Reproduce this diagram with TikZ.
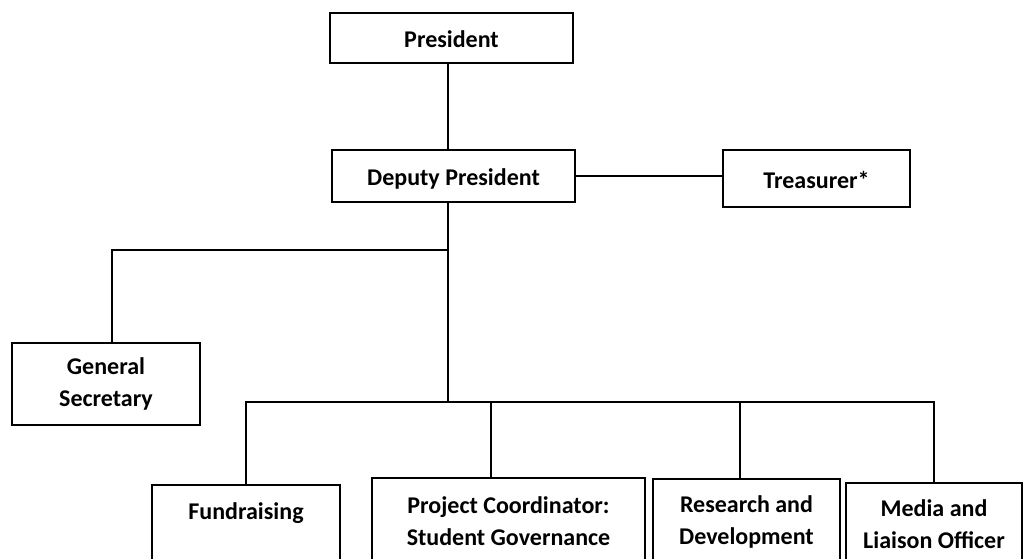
\documentclass[tikz,border=0pt]{standalone}
\usepackage{fontspec}
\setmainfont{Carlito}
\usepackage{tikz}
\usetikzlibrary{positioning,calc}

\begin{document}
\begin{tikzpicture}[
  x=0.5pt, y=-0.5pt,
  box/.style={rectangle, draw, line width=1pt, inner sep=0pt, align=center,
              font=\fontsize{12}{16}\selectfont\bfseries},
  onebox/.style={box, text height=9.5pt, text depth=0pt},
  link/.style={line width=1pt},
]
\useasboundingbox (0,0) rectangle (1027,558);
\clip (0,0) rectangle (1027,558);

% Top of the chart
\node[onebox, minimum width=121.5pt, minimum height=25pt] (president) at (451.5,38) {President};
\node[onebox, minimum width=121.5pt, minimum height=26pt] (deputy) at (453.5,176) {Deputy President};
\node[onebox, minimum width=93.5pt, minimum height=28.5pt] (treasurer) at (816.5,178.5) {Treasurer*};

% Secretary branch
\node[box, minimum width=94pt, minimum height=41pt] (gensec) at (106,384) {General\\Secretary};

% Bottom row (boxes run past the lower edge)
\node[box, minimum width=94pt, anchor=north, text height=17pt, text depth=30pt] (fundraising) at (246,484) {Fundraising};
\node[box, minimum width=136.5pt, minimum height=43pt] (projcoord) at (508.5,521) {Project Coordinator:\\Student Governance};
\node[box, minimum width=93.5pt, minimum height=43pt] (research) at (746.5,522) {Research and\\Development};
\node[box, minimum width=88pt, minimum height=41pt] (media) at (934,524) {Media and\\Liaison Officer};

% Hubs on the trunk
\coordinate (sechub) at (448,250);
\coordinate (bothub) at (448,402);

% Connectors
\draw[link] (president.south -| sechub) -- (deputy.north -| sechub);
\draw[link] (deputy.east) -- (deputy.east -| treasurer.west);
\draw[link] (deputy.south -| sechub) -- (bothub);
\draw[link] (sechub) -| ([xshift=3pt]gensec.north);
\draw[link] (fundraising.north) |- (media.north |- bothub) -- (media.north);
\draw[link] ([xshift=-8.75pt]projcoord.north) -- ([xshift=-8.75pt]projcoord.north |- bothub);
\draw[link] ([xshift=-3.25pt]research.north) -- ([xshift=-3.25pt]research.north |- bothub);

\end{tikzpicture}
\end{document}
